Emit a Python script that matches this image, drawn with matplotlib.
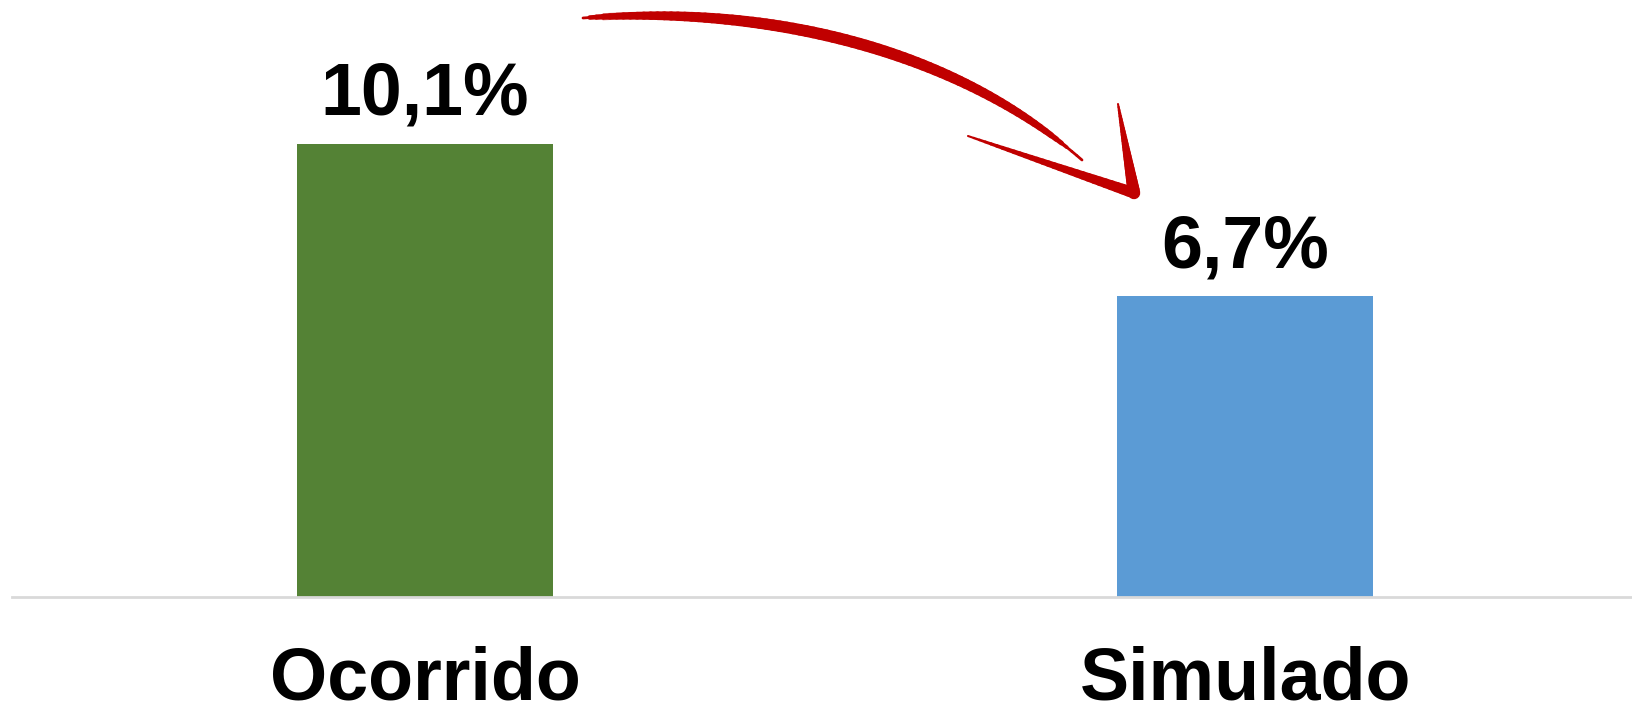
import numpy as np
import matplotlib; matplotlib.use("Agg")
import matplotlib.pyplot as plt
from matplotlib.collections import LineCollection

plt.rcParams.update({"font.family": ["Liberation Sans", "DejaVu Sans"]})

categories = ["Ocorrido", "Simulado"]
values = [10.1, 6.7]
labels = ["10,1%", "6,7%"]
colors = ["#548235", "#5B9BD5"]

W, H = 1632, 715
fig = plt.figure(figsize=(W / 100, H / 100), dpi=100)
ax = fig.add_axes([12 / W, 118 / H, 1 - 12 / W, 1 - 118 / H])

x = np.arange(len(categories))
ax.bar(x, values, width=0.312, color=colors, zorder=2)
ax.set_xlim(-0.5037, 1.4713)
ax.set_ylim(0, 13.31)
for xi, v, lab in zip(x, values, labels):
    ax.annotate(lab, (xi, v), xytext=(0, 21), textcoords="offset points",
                ha="center", va="baseline", fontsize=53, fontweight="bold")

for s in ["top", "right", "left"]:
    ax.spines[s].set_visible(False)
ax.spines["bottom"].set_color("#d9d9d9")
ax.spines["bottom"].set_linewidth(2)
ax.set_yticks([])
ax.set_xticks(x)
ax.set_xticklabels(categories, fontsize=53, fontweight="bold")
ax.tick_params(axis="x", length=0, pad=35)

# hand-drawn style red arrow (figure pixel coords, from top-left)
red = "#C00000"
P = np.array([(583, 18), (760, 5), (950, 45), (1082, 160)], float)
t = np.linspace(0, 1, 80)[:, None]
curve = ((1 - t) ** 3 * P[0] + 3 * (1 - t) ** 2 * t * P[1]
         + 3 * (1 - t) * t ** 2 * P[2] + t ** 3 * P[3])
pts = np.column_stack([curve[:, 0] / W, 1 - curve[:, 1] / H])
segs = np.stack([pts[:-1], pts[1:]], axis=1)
tt = t[:-1, 0]
widths = 2 + 6.5 * np.sin(np.pi * np.clip(tt * 1.05, 0, 1)) ** 0.5
fig.add_artist(LineCollection(segs, linewidths=widths, colors=red, capstyle="round",
                              transform=fig.transFigure))
for dy, lw in [(3, 0.8), (-3, 0.8)]:
    c = curve + [0, dy]
    fig.add_artist(plt.Line2D(c[3:-6, 0] / W, 1 - c[3:-6, 1] / H, color=red, lw=lw,
                              alpha=0.5, transform=fig.transFigure))

tip = (1134, 193)
for arm, lw in [((968, 136), 8.0), ((1118, 104), 9.0)]:
    n = 30
    xs = np.linspace(arm[0], tip[0], n)
    ys = np.linspace(arm[1], tip[1], n)
    p = np.column_stack([xs / W, 1 - ys / H])
    sg = np.stack([p[:-1], p[1:]], axis=1)
    wd = np.linspace(1.5, lw, n - 1)
    fig.add_artist(LineCollection(sg, linewidths=wd, colors=red, capstyle="round",
                                  transform=fig.transFigure))

fig.savefig("out.png", dpi=100)
